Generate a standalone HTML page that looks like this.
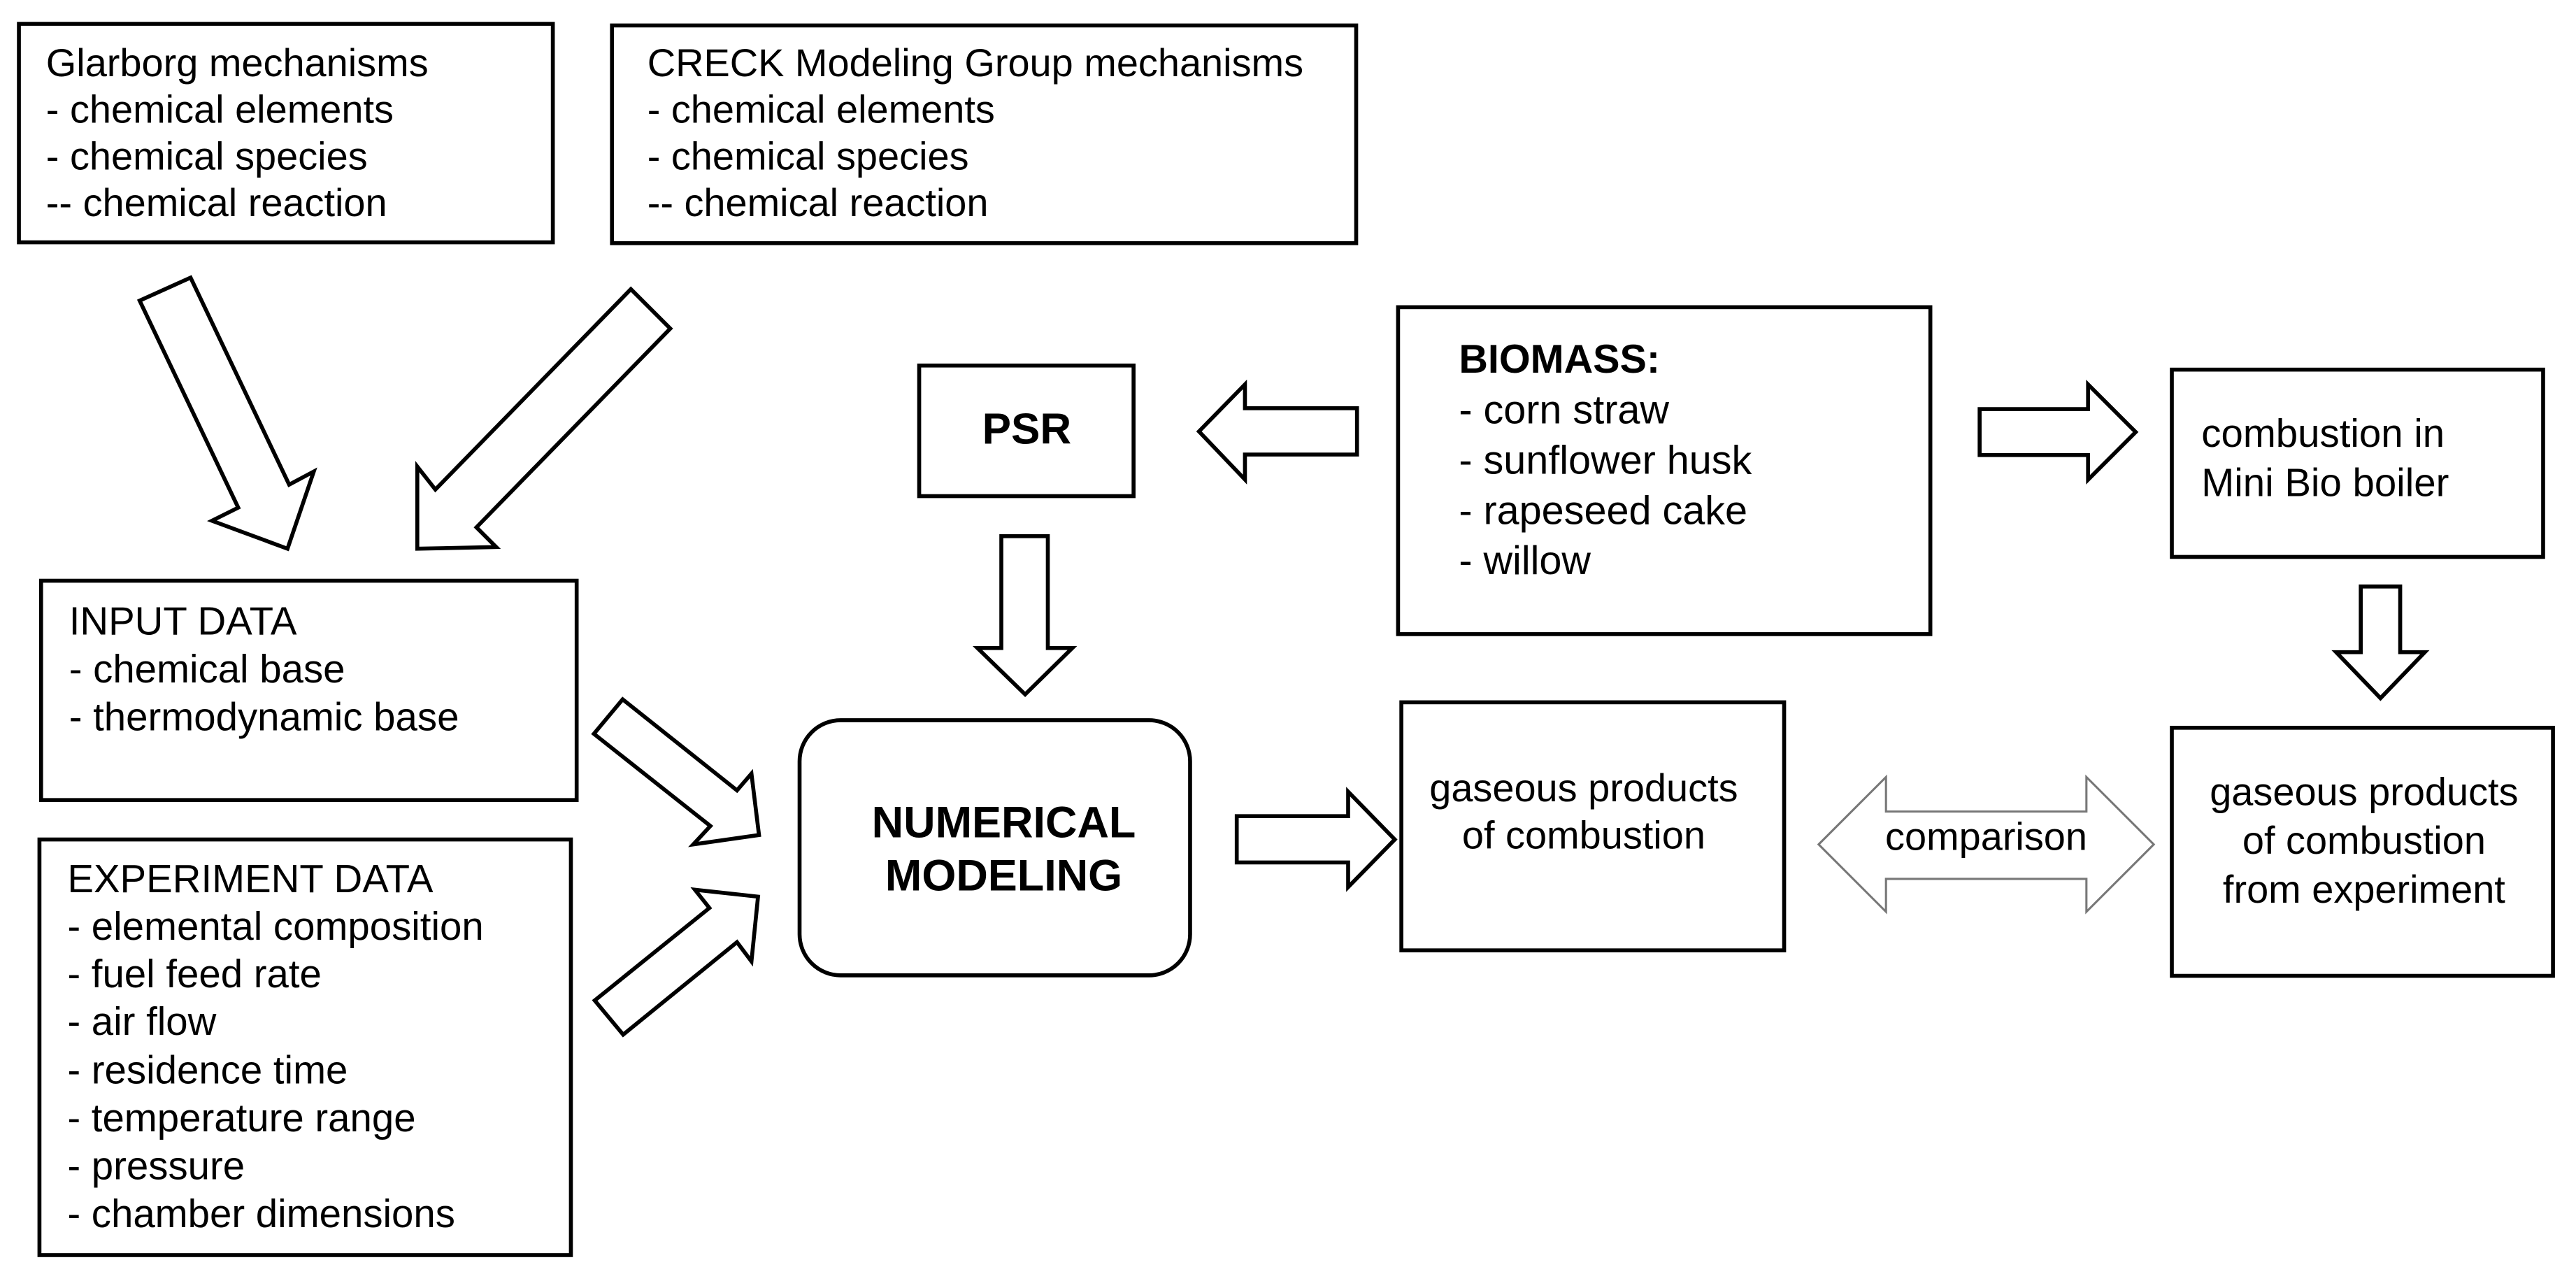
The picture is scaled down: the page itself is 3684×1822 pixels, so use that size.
<!DOCTYPE html>
<html><head><meta charset="utf-8"><style>
html,body{margin:0;padding:0;background:#fff;}
svg{display:block;}
text{font-family:"Liberation Sans",Arial,sans-serif;fill:#000;}
</style></head><body>
<svg width="3684" height="1822" viewBox="0 0 1568 775.5" xmlns="http://www.w3.org/2000/svg">
<g fill="none" stroke="#000" stroke-width="2.4">
<rect x="11.5" y="14.5" width="325" height="133"/>
<rect x="372.5" y="15.5" width="453" height="132.5"/>
<rect x="559.5" y="222.5" width="130.5" height="79.5"/>
<rect x="851" y="187" width="324" height="199"/>
<rect x="1322" y="225" width="226" height="114"/>
<rect x="25" y="353.5" width="326" height="133.5"/>
<rect x="24" y="511" width="323.5" height="253"/>
<rect x="486.7" y="438.4" width="237.7" height="155.3" rx="25"/>
<rect x="853" y="427.5" width="233" height="151"/>
<rect x="1322" y="443" width="232" height="151"/>
<polygon points="85,183 116,169 176,295 191,287 175,334 129,317 145,309" fill="#fff"/>
<polygon points="384,176 408,200 290,321 302,333 254,334 254,284 265,298" fill="#fff"/>
<polygon points="379,425.7 361.5,446.7 432.4,502.8 422,514 462,508.3 457.4,470.9 448.6,481.1" fill="#fff"/>
<polygon points="362,609 379.3,629.8 448.6,573.5 457.4,585.2 461.4,545.8 423,541.6 431.8,552.7" fill="#fff"/>
<polygon points="609.5,326.4 637.8,326.4 637.8,394.5 652.7,394.5 624,422.7 595,394.5 609.5,394.5" fill="#fff"/>
<polygon points="826,248.5 757.8,248.5 757.8,234 729.8,262.6 757.8,291.9 757.8,276.7 826,276.7" fill="#fff"/>
<polygon points="1205,249 1271,249 1271,234 1300,263 1271,292 1271,277 1205,277" fill="#fff"/>
<polygon points="1437,357 1461,357 1461,397 1476,397 1449,425 1422,397 1437,397" fill="#fff"/>
<polygon points="752.8,496.8 820.6,496.8 820.6,481.9 849,511 820.6,540 820.6,525 752.8,525" fill="#fff"/>
</g>
<polygon points="1107,514 1148,473 1148,494 1270,494 1270,473 1311,514 1270,555 1270,535 1148,535 1148,555" fill="#fff" stroke="#777" stroke-width="1.3"/>
<g font-size="23.8">
<text x="28" y="46.4">Glarborg mechanisms</text>
<text x="28" y="74.8">- chemical elements</text>
<text x="28" y="103.2">- chemical species</text>
<text x="28" y="131.6">-- chemical reaction</text>
<text x="394" y="46.4">CRECK Modeling Group mechanisms</text>
<text x="394" y="74.8">- chemical elements</text>
<text x="394" y="103.2">- chemical species</text>
<text x="394" y="131.6">-- chemical reaction</text>
</g>
<g font-size="24">
<text x="42" y="386.3">INPUT DATA</text>
<text x="42" y="415.4">- chemical base</text>
<text x="42" y="444.5">- thermodynamic base</text>
<text x="41" y="543">EXPERIMENT DATA</text>
<text x="41" y="572">- elemental composition</text>
<text x="41" y="601">- fuel feed rate</text>
<text x="41" y="630">- air flow</text>
<text x="41" y="659.5">- residence time</text>
<text x="41" y="688.6">- temperature range</text>
<text x="41" y="717.8">- pressure</text>
<text x="41" y="747">- chamber dimensions</text>
</g>
<g font-size="24.5">
<text x="888" y="226.8" font-weight="bold">BIOMASS:</text>
<text x="888" y="257.7">- corn straw</text>
<text x="888" y="288.4">- sunflower husk</text>
<text x="888" y="319">- rapeseed cake</text>
<text x="888" y="349.4">- willow</text>
</g>
<g font-size="24">
<text x="1340" y="272">combustion in</text>
<text x="1340" y="302">Mini Bio boiler</text>
</g>
<g font-size="23.8" text-anchor="middle">
<text x="964" y="487.8">gaseous products</text>
<text x="964" y="516.5">of combustion</text>
<text x="1439" y="490.2">gaseous products</text>
<text x="1439" y="519.8">of combustion</text>
<text x="1439" y="549.5">from experiment</text>
<text x="1209" y="517.4">comparison</text>
</g>
<g font-weight="bold" text-anchor="middle">
<text x="625" y="270" font-size="26.4">PSR</text>
<text x="611" y="509.6" font-size="26.8">NUMERICAL</text>
<text x="611" y="542" font-size="26.8">MODELING</text>
</g>
</svg>
</body></html>
